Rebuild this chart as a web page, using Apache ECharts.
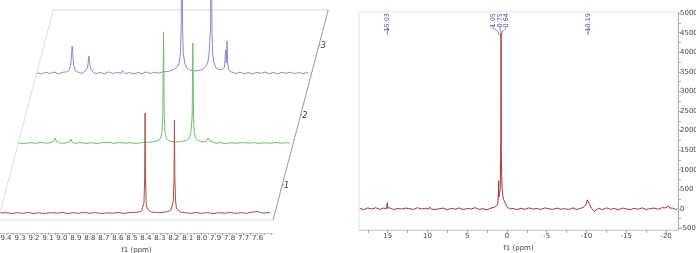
<!DOCTYPE html>
<html>
<head>
<meta charset="utf-8">
<script src="https://cdn.jsdelivr.net/npm/echarts@6/dist/echarts.min.js"></script>
<style>
  html, body { margin: 0; padding: 0; background: #fff; }
  #main { width: 696px; height: 253px; }
</style>
</head>
<body>
<div id="main"></div>
<script>
// left panel: stacked 1H spectra, [ppm, intensity]
var spec1 = [[9.44,0],[9.40,0.5],[9.36,-0.5],[9.32,0.3],[9.28,-0.3],[9.24,0.6],[9.20,-0.4],[9.16,0.2],[9.12,-0.6],[9.08,0.4],[9.04,-0.2],[9.00,0.5],[8.96,-0.5],[8.92,0.3],[8.88,-0.3],[8.84,0.6],[8.80,-0.2],[8.76,0.4],[8.72,-0.5],[8.68,0.2],[8.64,-0.3],[8.60,0.5],[8.56,-0.4],[8.52,0.3],[8.48,0.6],[8.45,1],[8.43,2],[8.42,4],[8.413,10],[8.408,35],[8.405,100],[8.402,35],[8.397,10],[8.39,4],[8.38,2],[8.36,1],[8.33,0.5],[8.30,0.3],[8.27,0.8],[8.24,1.5],[8.22,3],[8.21,5],[8.203,12],[8.198,35],[8.195,93],[8.192,35],[8.187,12],[8.18,4],[8.17,2],[8.15,1],[8.12,0.3],[8.08,-0.4],[8.04,0.5],[8.00,-0.3],[7.96,0.4],[7.92,-0.5],[7.88,0.3],[7.84,-0.2],[7.80,0.6],[7.76,-0.4],[7.72,0.3],[7.68,-0.3],[7.64,0.8],[7.60,1.5],[7.56,-0.2],[7.52,0.4],[7.51,0]];
var spec2 = [[9.44,0],[9.40,-0.5],[9.36,0.4],[9.32,-0.3],[9.28,0.5],[9.24,-0.2],[9.21,0.6],[9.19,1.5],[9.18,5],[9.17,1.5],[9.15,0.2],[9.12,-0.4],[9.09,0.5],[9.075,1.5],[9.068,4],[9.06,1.2],[9.04,-0.3],[9.00,0.4],[8.96,-0.4],[8.92,0.3],[8.88,-0.5],[8.84,0.4],[8.80,0.8],[8.76,-0.3],[8.72,0.5],[8.68,-0.2],[8.64,0.3],[8.60,-0.5],[8.56,0.4],[8.52,0.6],[8.49,1],[8.46,1.8],[8.44,2.8],[8.425,5],[8.415,12],[8.41,30],[8.405,111],[8.40,30],[8.395,12],[8.385,5],[8.37,2.6],[8.35,1.6],[8.32,1],[8.29,1.3],[8.26,2],[8.24,3],[8.22,5],[8.21,10],[8.20,26],[8.195,100],[8.19,26],[8.185,10],[8.175,5],[8.16,2.6],[8.14,1.6],[8.11,1.2],[8.095,2.5],[8.087,5],[8.08,4.5],[8.073,2],[8.06,0.6],[8.03,-0.3],[8.00,0.4],[7.96,-0.5],[7.92,0.3],[7.88,-0.3],[7.84,0.5],[7.80,-0.2],[7.76,0.4],[7.72,-0.4],[7.68,0.3],[7.64,-0.3],[7.60,0.5],[7.56,-0.2],[7.52,0.3],[7.50,0]];
var spec3 = [[9.44,0],[9.41,-1],[9.38,0.8],[9.35,-0.6],[9.32,1],[9.29,-0.8],[9.26,0.6],[9.23,1.2],[9.21,3],[9.20,9],[9.19,27],[9.18,9],[9.17,3],[9.15,1],[9.12,-0.5],[9.10,1.5],[9.08,5],[9.07,17],[9.06,5],[9.045,1.5],[9.02,-0.8],[8.99,0.6],[8.96,-1],[8.93,1.2],[8.90,-0.6],[8.87,0.8],[8.84,-0.4],[8.83,2.5],[8.81,-0.8],[8.78,0.6],[8.75,-1],[8.72,0.4],[8.69,-0.6],[8.66,1],[8.63,-0.5],[8.60,0.8],[8.57,-0.2],[8.54,1.2],[8.51,1.5],[8.48,2.5],[8.46,3.5],[8.44,5.5],[8.425,10],[8.415,20],[8.41,45],[8.405,175],[8.40,45],[8.395,20],[8.385,10],[8.37,5],[8.35,3],[8.32,2],[8.29,2.4],[8.26,3.5],[8.24,5.5],[8.22,10],[8.21,20],[8.20,45],[8.195,175],[8.19,45],[8.185,20],[8.175,10],[8.16,5],[8.14,3.5],[8.12,3],[8.10,6],[8.092,23],[8.087,10],[8.082,32],[8.077,9],[8.07,3],[8.05,1],[8.02,-0.5],[7.99,0.8],[7.96,-0.8],[7.93,0.5],[7.90,-1],[7.87,0.7],[7.84,-0.4],[7.81,1],[7.78,-0.6],[7.75,0.5],[7.72,-0.8],[7.69,0.6],[7.66,-0.3],[7.63,0.8],[7.60,-0.6],[7.57,0.4],[7.54,-0.5],[7.51,0.2],[7.50,0]];
var stackNames = ['1', '2', '3'];
var leftTicks = [9.4, 9.3, 9.2, 9.1, 9.0, 8.9, 8.8, 8.7, 8.6, 8.5, 8.4, 8.3, 8.2, 8.1, 8.0, 7.9, 7.8, 7.7, 7.6];

// right panel: full-range spectrum
var spec4 = [[18.5,10],[18.25,-15],[18.0,-20],[17.75,15],[17.5,25],[17.25,-10],[17.0,-5],[16.75,20],[16.5,30],[16.25,-5],[16.0,-15],[15.75,10],[15.5,20],[15.3,-10],[15.15,5],[15.08,40],[15.03,160],[14.98,20],[14.85,-5],[14.7,25],[14.5,15],[14.25,-20],[14.0,-25],[13.75,10],[13.5,35],[13.25,-5],[13.0,0],[12.75,20],[12.5,-20],[12.25,5],[12.0,20],[11.75,-15],[11.5,-10],[11.25,30],[11.0,25],[10.75,-5],[10.5,-30],[10.25,15],[10.0,10],[9.85,-10],[9.7,45],[9.5,-10],[9.25,15],[9.0,-15],[8.75,20],[8.5,5],[8.25,-20],[8.0,20],[7.75,5],[7.5,-25],[7.25,10],[7.0,15],[6.75,-15],[6.5,-10],[6.25,20],[6.0,25],[5.75,-5],[5.5,-20],[5.25,15],[5.0,10],[4.75,-20],[4.5,-5],[4.25,25],[4.0,30],[3.75,-10],[3.5,-15],[3.25,20],[3.0,5],[2.75,-15],[2.5,-25],[2.25,10],[2.0,20],[1.8,-5],[1.6,40],[1.4,60],[1.25,90],[1.15,150],[1.08,400],[1.05,720],[1.02,300],[0.95,250],[0.85,500],[0.78,1500],[0.75,4480],[0.72,1500],[0.67,900],[0.64,950],[0.6,500],[0.5,300],[0.4,230],[0.2,140],[0.0,60],[-0.3,0],[-0.5,-30],[-0.75,10],[-1.0,15],[-1.25,-20],[-1.5,-25],[-1.75,15],[-2.0,10],[-2.25,-10],[-2.5,-15],[-2.75,25],[-3.0,20],[-3.25,-5],[-3.5,-30],[-3.75,10],[-4.0,5],[-4.25,-15],[-4.5,15],[-4.75,25],[-5.0,-20],[-5.25,5],[-5.5,25],[-5.75,-15],[-6.0,-10],[-6.25,20],[-6.5,10],[-6.75,-10],[-7.0,-25],[-7.25,5],[-7.5,20],[-7.75,-20],[-8.0,-5],[-8.25,25],[-8.5,15],[-8.75,-15],[-9.0,-20],[-9.25,10],[-9.5,40],[-9.75,60],[-9.95,120],[-10.1,230],[-10.19,260],[-10.3,180],[-10.45,90],[-10.6,20],[-10.8,-20],[-11.0,-60],[-11.25,-10],[-11.5,15],[-11.75,25],[-12.0,-20],[-12.25,-5],[-12.5,25],[-12.75,10],[-13.0,-10],[-13.25,20],[-13.5,10],[-13.75,-20],[-14.0,-25],[-14.25,10],[-14.5,20],[-14.75,-10],[-15.0,0],[-15.25,20],[-15.5,-20],[-15.75,5],[-16.0,15],[-16.25,-15],[-16.5,-10],[-16.75,20],[-17.0,25],[-17.25,-5],[-17.5,-15],[-17.75,15],[-18.0,5],[-18.25,-20],[-18.5,20],[-18.75,30],[-19.0,-10],[-19.25,15],[-19.5,30],[-19.75,10],[-20.0,25],[-20.15,40],[-20.3,80],[-20.45,20],[-20.6,-10],[-20.8,20],[-21.0,15],[-21.2,-15],[-21.4,5]];
// [label position ppm, peak ppm, text]
var peakLabels = [[15.03, 15.03, '15.03'], [1.76, 1.05, '1.05'], [0.88, 0.75, '0.75'], [0.13, 0.64, '0.64'], [-10.19, -10.19, '-10.19']];
var rightXTicks = [15, 10, 5, 0, -5, -10, -15, -20];
var rightYTicks = [-500, 0, 500, 1000, 1500, 2000, 2500, 3000, 3500, 4000, 4500, 5000];

var stepX = 18.4, stepY = 70;
var leftW = 273;
var colors = ['#b24c4c', '#6cbf6c', '#8a8ad0'];
var font = 'DejaVu Sans';

var chart = echarts.init(document.getElementById('main'));

var minorLeft = [];
for (var t = 7.5; t <= 9.451; t += 0.05) minorLeft.push(+t.toFixed(2));
var minorRightX = [];
for (var u = -20; u <= 17.5; u += 2.5) minorRightX.push(u);
var minorRightY = [];
for (var w = -500; w <= 5000; w += 250) minorRightY.push(w);

var grids = [], xAxes = [], yAxes = [], series = [];
var specs = [spec1, spec2, spec3];
for (var i = 0; i < 3; i++) {
    grids.push({ left: i * stepX, width: leftW, bottom: 20 + i * stepY, height: 220, outerBoundsMode: 'none' });
    xAxes.push({
        type: 'value', gridIndex: i, min: 7.49, max: 9.443, inverse: true, show: i === 0,
        splitLine: { show: false },
        axisLine: { onZero: false, lineStyle: { color: '#c8c8c8' } },
        axisTick: { customValues: minorLeft, length: 2, lineStyle: { color: '#aaa' } },
        axisLabel: { customValues: leftTicks, color: '#444', fontSize: 7, fontFamily: font, margin: 2,
            formatter: function (v) { return v.toFixed(1); } },
        name: 'f1 (ppm)', nameLocation: 'middle', nameGap: 11,
        nameTextStyle: { color: '#444', fontSize: 7, fontFamily: font }
    });
    yAxes.push({ type: 'value', gridIndex: i, min: -20, max: 200, show: false });
    series.push({
        type: 'line', xAxisIndex: i, yAxisIndex: i, data: specs[i], showSymbol: false,
        clip: false, lineStyle: { color: colors[i], width: 1 }, z: 3 - i
    });
}

// right panel
grids.push({ left: 359, right: 18, top: 12, bottom: 23, show: true, borderColor: '#e6e6e6', borderWidth: 1, outerBoundsMode: 'none' });
xAxes.push({
    type: 'value', gridIndex: 3, min: -21.5, max: 18.6, inverse: true,
    splitLine: { show: false },
    axisLine: { onZero: false, lineStyle: { color: '#d0d0d0' } },
    axisTick: { customValues: minorRightX, length: 3, lineStyle: { color: '#aaa' } },
    axisLabel: { customValues: rightXTicks, color: '#444', fontSize: 7, fontFamily: font, margin: 3 },
    name: 'f1 (ppm)', nameLocation: 'middle', nameGap: 13,
    nameTextStyle: { color: '#444', fontSize: 7, fontFamily: font }
});
yAxes.push({
    type: 'value', gridIndex: 3, position: 'right', min: -540, max: 5030,
    splitLine: { show: false },
    axisLine: { show: true, onZero: false, lineStyle: { color: '#b0b0b0' } },
    axisTick: { show: true, customValues: minorRightY, length: 3, lineStyle: { color: '#aaa' } },
    axisLabel: { customValues: rightYTicks, color: '#444', fontSize: 7, fontFamily: font, margin: 2,
        formatter: function (v) { return String(v); } }
});
series.push({
    type: 'line', xAxisIndex: 3, yAxisIndex: 3, data: spec4, showSymbol: false,
    lineStyle: { color: '#a83434', width: 1 }
});
series.push({
    type: 'custom', xAxisIndex: 3, yAxisIndex: 3, data: peakLabels,
    encode: { x: [0, 1] },
    renderItem: function (params, api) {
        var lx = api.coord([api.value(0), 0])[0];
        var px = api.coord([api.value(1), 0])[0];
        var top = params.coordSys.y;
        var single = api.value(0) === api.value(1);
        var pts = single ? [[lx, top + 15], [lx, top + 23]]
            : [[lx, top + 14], [lx, top + 16], [px, top + 20], [px, top + 23]];
        return {
            type: 'group',
            children: [{
                type: 'text', x: lx, y: top + 1, rotation: Math.PI / 2,
                style: { text: peakLabels[params.dataIndex][2], fill: '#4848a8', font: '6.5px ' + font,
                    align: 'right', verticalAlign: 'middle' }
            }, {
                type: 'polyline', shape: { points: pts },
                style: { stroke: '#6a6ab8', lineWidth: 0.8, fill: null }
            }]
        };
    }
});

chart.setOption({
    animation: false,
    backgroundColor: '#fff',
    grid: grids, xAxis: xAxes, yAxis: yAxes, series: series
});

// oblique stacking frame around the left panel
var bl = chart.convertToPixel({ gridIndex: 0 }, [9.457, -7]);
var br = chart.convertToPixel({ gridIndex: 0 }, [7.49, -7]);
var dx = 3 * stepX, dy = 3 * stepY;
var skew = stepX / stepY;
var gfx = [
    { type: 'polyline', shape: { points: [[br[0], br[1]], [bl[0], bl[1]], [bl[0] + dx, bl[1] - dy], [br[0] + dx, br[1] - dy]] },
      style: { stroke: '#dcdcdc', lineWidth: 1, fill: null }, z: 0 },
    { type: 'line', shape: { x1: br[0], y1: br[1], x2: br[0] + dx, y2: br[1] - dy },
      style: { stroke: '#9a9a9a', lineWidth: 1 }, z: 0 }
];
for (var k = 0; k < 3; k++) {
    var ly = chart.convertToPixel({ gridIndex: k }, [7.49, 27])[1];
    var ex = br[0] + (br[1] - ly) * skew;
    gfx.push({ type: 'line', shape: { x1: ex, y1: ly, x2: ex + 2, y2: ly - 2 }, style: { stroke: '#777', lineWidth: 0.8 } });
    gfx.push({ type: 'text', x: ex + 2, y: ly,
        style: { text: stackNames[k], fill: '#333', font: 'italic 8px ' + font, verticalAlign: 'middle' } });
}
chart.setOption({ graphic: gfx });
</script>
</body>
</html>
